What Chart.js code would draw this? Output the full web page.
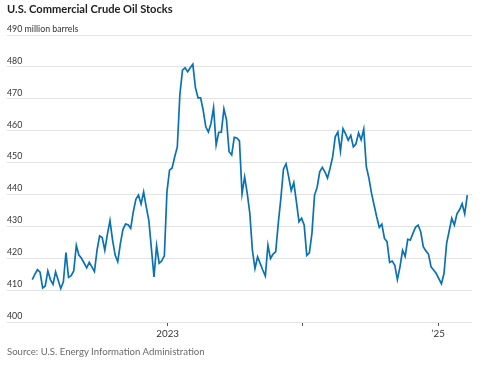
<!DOCTYPE html>
<html>
<head>
<meta charset="utf-8">
<script src="https://cdn.jsdelivr.net/npm/chart.js@4.4.1/dist/chart.umd.min.js"></script>
<style>
  html, body { margin: 0; padding: 0; background: #fff; }
  #wrap { position: relative; width: 482px; height: 368px; }
  #title { position: absolute; left: 7px; top: 2px; font: bold 11.1px Lato, sans-serif; color: #222; white-space: nowrap; }
  #source { position: absolute; left: 7px; top: 346px; font: 9.6px Lato, sans-serif; color: #6a6a6a; white-space: nowrap; }
  canvas { position: absolute; left: 0; top: 0; }
</style>
</head>
<body>
<div id="wrap">
  <canvas id="chart" width="482" height="368"></canvas>
  <div id="title">U.S. Commercial Crude Oil Stocks</div>
  <div id="source">Source: U.S. Energy Information Administration</div>
</div>
<script>
// Weekly U.S. commercial crude stocks, million barrels, first week ending 2021-12-31
const startDay = -1; // days from 2022-01-01
const stocks = [
  413.3, 415.0, 416.4, 415.6, 410.7, 411.3, 416.0, 413.3, 411.8, 415.7,
  413.1, 410.5, 412.6, 421.8, 414.0, 414.5, 416.0, 424.0, 421.0, 420.0,
  418.5, 417.0, 418.7, 417.3, 415.8, 422.5, 427.0, 426.5, 422.5, 427.5,
  431.8, 425.7, 421.0, 418.9, 424.5, 429.0, 430.7, 430.5, 429.4, 434.5,
  438.5, 439.8, 437.0, 440.8, 436.1, 431.9, 423.0, 414.1, 423.9, 418.4,
  419.2, 420.8, 440.8, 447.6, 448.3, 451.8, 454.9, 471.4, 479.0, 479.7,
  478.5, 479.7, 480.8, 473.5, 470.3, 470.3, 466.4, 461.2, 459.6, 462.2,
  467.2, 455.5, 459.5, 459.5, 466.8, 463.4, 453.4, 452.4, 457.9, 457.7,
  456.8, 440.2, 445.5, 440.4, 434.1, 422.5, 416.8, 420.4, 418.4, 416.3,
  414.4, 424.1, 419.9, 421.3, 422.0, 431.0, 438.8, 447.9, 449.6, 445.6,
  441.2, 443.7, 437.7, 431.4, 432.5, 430.4, 420.9, 421.7, 427.8, 439.8,
  442.2, 447.1, 448.5, 447.1, 445.1, 448.2, 451.8, 458.1, 459.6, 453.6,
  460.6, 459.0, 457.0, 458.5, 454.9, 455.9, 459.3, 457.1, 460.5, 448.7,
  445.1, 440.4, 436.7, 433.0, 429.7, 430.7, 426.2, 425.2, 418.7, 419.1,
  417.8, 413.3, 417.3, 422.5, 420.6, 425.9, 425.7, 427.8, 429.7, 430.4,
  428.3, 423.6, 422.3, 421.3, 417.3, 416.3, 415.2, 413.6, 412.0, 415.2,
  424.6, 428.6, 432.5, 430.4, 433.9, 435.2, 437.1, 433.9, 439.8
];

// x ticks: Jan 1 of each year, in days from 2022-01-01
const xTickDays = [365, 730, 1096];
const xTickLabels = ['2023', '', '\u201925'];
const yTicks = [400, 410, 420, 430, 440, 450, 460, 470, 480, 490];

const points = stocks.map((v, i) => ({ x: startDay + i * 7, y: v }));

new Chart(document.getElementById('chart'), {
  type: 'line',
  data: {
    datasets: [{
      data: points,
      borderColor: '#0a72b0',
      borderWidth: 1.7,
      pointRadius: 0,
      tension: 0,
      fill: false
    }]
  },
  options: {
    responsive: false,
    animation: false,
    layout: { padding: { top: 35, left: 7, right: 10, bottom: 26 } },
    plugins: { legend: { display: false }, tooltip: { enabled: false } },
    scales: {
      x: {
        type: 'linear',
        min: -69.4,
        max: 1187.7,
        afterBuildTicks: (scale) => { scale.ticks = xTickDays.map(v => ({ value: v })); },
        afterFit: (scale) => { scale.height = 20; },
        border: { display: false },
        grid: { drawOnChartArea: false, drawTicks: true, tickLength: 4, color: '#555' },
        ticks: {
          padding: 2,
          color: '#333',
          font: { family: 'Lato', size: 9.8 },
          maxRotation: 0,
          callback: (v) => {
            const k = xTickDays.indexOf(v);
            return k >= 0 ? xTickLabels[k] : '';
          }
        }
      },
      y: {
        min: 400,
        max: 490,
        afterBuildTicks: (scale) => { scale.ticks = yTicks.map(v => ({ value: v })); },
        afterFit: (scale) => { scale.width = 0; },
        border: { display: false },
        grid: { color: '#e3e3e3', drawTicks: false },
        ticks: {
          mirror: true,
          padding: 0,
          labelOffset: -6,
          color: '#333',
          font: { family: 'Lato', size: 8.8 },
          callback: (v) => v === 490 ? '490 million barrels' : String(v)
        }
      }
    }
  }
});
</script>
</body>
</html>
